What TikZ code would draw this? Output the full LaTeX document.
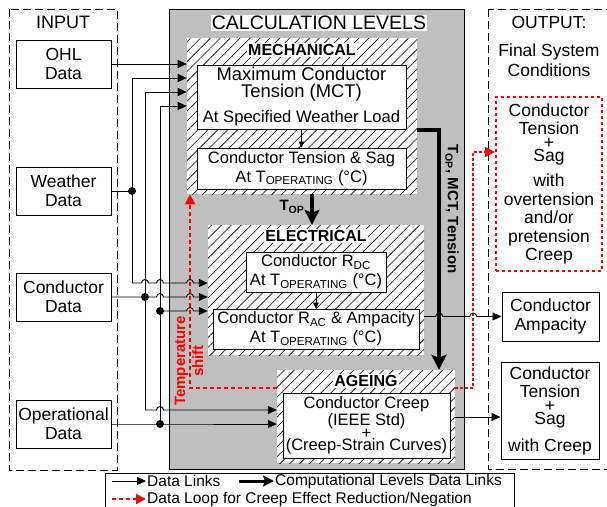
\documentclass[tikz,border=0pt]{standalone}
\usepackage{fontspec}
\setmainfont{Liberation Sans}
\usetikzlibrary{arrows.meta, patterns.meta}

\begin{document}
\begin{tikzpicture}[x=1pt, y=-1pt,
    % Connector styles
    wire/.style={line width=0.9pt},
    datalink/.style={line width=0.9pt, -{Triangle[length=9pt,width=8pt]}},
    smalllink/.style={line width=0.8pt, -{Triangle[length=6pt,width=6pt]}},
    complink/.style={line width=3.6pt, -{Stealth[length=15pt,width=15pt,inset=3pt]}},
    looplink/.style={red, line width=1.8pt, dash pattern=on 4pt off 3pt, -{Triangle[length=10pt,width=10pt]}},
    % Box styles
    groupbox/.style={line width=0.9pt, dash pattern=on 8pt off 4pt},
    inbox/.style={draw, line width=1pt, fill=white, minimum width=95pt, minimum height=48pt,
        align=center, inner sep=0pt, font=\fontsize{17.5}{19}\selectfont},
    outbox/.style={draw, line width=1pt, fill=white, align=center, inner sep=0pt,
        font=\fontsize{17.5}{18.5}\selectfont},
    levelbox/.style={preaction={fill=white}, pattern={Lines[angle=45,distance=7pt,line width=0.6pt]},
        inner sep=0pt},
    levellabel/.style={fill=white, inner sep=1pt, font=\bfseries\fontsize{16}{18}\selectfont},
    calcbox/.style={draw, line width=1pt, fill=white, align=center, inner sep=0pt,
        font=\fontsize{16.5}{19}\selectfont},
    legtext/.style={anchor=west, inner sep=1pt, font=\fontsize{15.5}{17}\selectfont},
    junction/.style={circle, fill, inner sep=0pt, minimum size=8pt}
]
\useasboundingbox (0,0) rectangle (607,506);

% 1. Input column
\draw[groupbox] (9,9) rectangle (117,470);
\node[font=\fontsize{18}{20}\selectfont] (inputlbl) at (63,22) {INPUT};
\node[inbox] (ohl) at (63.5,64) {OHL\\Data};
\node[inbox] (weather) at (63.5,191) {Weather\\Data};
\node[inbox] (conductor) at (63.5,297) {Conductor\\Data};
\node[inbox] (operational) at (63.5,424) {Operational\\Data};

% 2. Calculation levels (grey panel with hatched levels)
\draw[line width=0.9pt, fill=black!25] (169,9) rectangle (464,469);
\node[fill=white, inner sep=1pt, font=\fontsize{19.5}{21}\selectfont] (calclbl) at (319,23) {CALCULATION LEVELS};

\node[levelbox, minimum width=230pt, minimum height=156pt] (mech) at (302,116) {};
\node[levelbox, minimum width=216pt, minimum height=130pt] (elec) at (316,290) {};
\node[levelbox, minimum width=178pt, minimum height=93pt] (ageing) at (366,416.5) {};
\node[levellabel] (mechlbl) at (302,50) {MECHANICAL};
\node[levellabel] (eleclbl) at (316,236) {ELECTRICAL};
\node[levellabel] (agelbl) at (366,381) {AGEING};

% Mechanical level
\node[calcbox, minimum width=209pt, minimum height=64pt, font=\fontsize{18.4}{17}\selectfont] (mct) at (301.5,97)
    {Maximum Conductor\\Tension (MCT)\\[8pt]{\fontsize{16.6}{17}\selectfont At Specified Weather Load}};
\node[calcbox, minimum width=209pt, minimum height=41pt] (tsag) at (301.5,168.5)
    {Conductor Tension \& Sag\\At T\textsubscript{OPERATING} (°C)};
\draw[smalllink] (mct.south) -- (tsag.north);

% Electrical level
\node[calcbox, minimum width=140pt, minimum height=40pt] (rdc) at (316,272)
    {Conductor R\textsubscript{DC}\\At T\textsubscript{OPERATING} (°C)};
\node[calcbox, minimum width=206pt, minimum height=40pt] (rac) at (316,329)
    {Conductor R\textsubscript{AC} \& Ampacity\\At T\textsubscript{OPERATING} (°C)};
\draw[smalllink] (rdc.south) -- (rac.north);

% Ageing level
\node[calcbox, minimum width=167pt, minimum height=65pt, font=\fontsize{16.5}{17}\selectfont] (creep) at (366.5,425.5)
    {Conductor Creep\\(IEEE Std)\\[-4.5pt]+\\[-4.5pt](Creep-Strain Curves)};

% 3. Output column
\draw[groupbox] (488,9) rectangle (625,469);
\node[font=\fontsize{17.5}{20}\selectfont] (outputlbl) at (549,22) {OUTPUT:};
\node[align=center, font=\fontsize{17.5}{20}\selectfont] (finallbl) at (549,60) {Final System\\Conditions};
\node[outbox, draw=red, line width=2pt, dash pattern=on 3pt off 3pt, minimum width=106pt, minimum height=174pt] (redbox) at (549,184)
    {Conductor\\Tension\\[-5pt]+\\[-5pt]Sag\\[6.5pt]with\\overtension\\and/or\\pretension\\Creep};
\node[outbox, minimum width=97pt, minimum height=49pt] (amp) at (550.5,316.5) {Conductor\\Ampacity};
\node[outbox, minimum width=98pt, minimum height=97pt] (tsc) at (550,410.5)
    {Conductor\\Tension\\[-5pt]+\\[-5pt]Sag\\[8pt]with Creep};

% 4. Computational level links
\coordinate (topA) at ([xshift=10pt]mech.south);
\draw[complink] (topA) -- (topA |- elec.north);
\node[font=\bfseries\fontsize{15}{17}\selectfont] (toplbl) at (292,207) {T\textsubscript{OP}};
\coordinate (tbend) at (439,130);
\draw[complink] (mech.east |- tbend) -- (tbend) -- (tbend |- ageing.north);
\node[rotate=-90, font=\bfseries\fontsize{15}{17}\selectfont] (tmtlbl) at (452,209) {T\textsubscript{OP}, MCT, Tension};

% 5. Data loops for creep effect (red)
\coordinate (loopL) at (190,388);
\draw[looplink] (loopL -| ageing.west) -- (loopL) -- (loopL |- mech.south);
\node[rotate=90, red, align=center, font=\bfseries\fontsize{15}{18}\selectfont] (tshift) at (189,361) {Temperature\\shift};
\coordinate (loopR) at (473,388);
\coordinate (loopT) at (473,152);
\draw[looplink, dash pattern=on 2.5pt off 2.5pt] (ageing.east |- loopR) -- (loopR) -- (loopT) -- (loopT -| redbox.west);

% 6. Input data links
\coordinate (wtop) at (132,78);
\coordinate (wbot) at (132,283);
\coordinate (ctop) at (145,92);
\coordinate (cbot) at (145,410);
\coordinate (otop) at (160,106);
\coordinate (omid) at (160,311);
\coordinate (jw) at (132,191);
\coordinate (jc) at (145,297);
\coordinate (jo) at (160,424);

\draw[datalink] (ohl.east) -- (ohl.east -| mech.west);
% weather data
\draw[wire] (weather.east) -- (jw);
\draw[wire] (wtop) -- (wbot);
\draw[datalink] (wtop) -- (wtop -| mech.west);
\draw[datalink] (wbot) -- ++(9.5,0) arc (180:360:3.5) -- ++(8,0) arc (180:360:3.5) -- ++(23,0) arc (180:360:3.5) -- (wbot -| elec.west);
% conductor data
\draw[wire] (ctop) -- (cbot);
\draw[datalink] (ctop) -- (ctop -| mech.west);
\draw[datalink] (conductor.east) -- (jc) -- ++(11.5,0) arc (180:360:3.5) -- ++(23,0) arc (180:360:3.5) -- (jc -| elec.west);
\draw[datalink] (cbot) -- ++(11.5,0) arc (180:360:3.5) -- (cbot -| ageing.west);
% operational data
\draw[wire] (otop) -- (jo);
\draw[datalink] (otop) -- (otop -| mech.west);
\draw[datalink] (omid) -- ++(26.5,0) arc (180:360:3.5) -- (omid -| elec.west);
\draw[datalink] (operational.east) -- (jo) -- (jo -| ageing.west);
\foreach \j in {jw, jc, jo, omid} {
    \node[junction] at (\j) {};
}

% 7. Output data links
\draw[datalink] (elec.east |- amp.west) -- ++(11.5,0) arc (180:360:3.5) -- ++(27,0) arc (180:360:3.5) -- (amp.west);
\coordinate (cout) at (455,417);
\draw[datalink] (cout) -- (cout -| tsc.west);

% 8. Legend
\draw[line width=0.9pt] (105,473) rectangle (514,515);
\node[legtext] (lgdata) at (146,481) {Data Links};
\node[legtext] (lgcomp) at (274,481) {Computational Levels Data Links};
\node[legtext] (lgloop) at (146,499) {Data Loop for Creep Effect Reduction/Negation};
\draw[datalink] ([xshift=-34pt]lgdata.west) -- (lgdata.west);
\draw[complink, line width=3pt, -{Stealth[length=11pt,width=11pt,inset=2pt]}] ([xshift=-35pt]lgcomp.west) -- (lgcomp.west);
\draw[looplink, line width=1.6pt] ([xshift=-34pt]lgloop.west) -- (lgloop.west);

\end{tikzpicture}
\end{document}
